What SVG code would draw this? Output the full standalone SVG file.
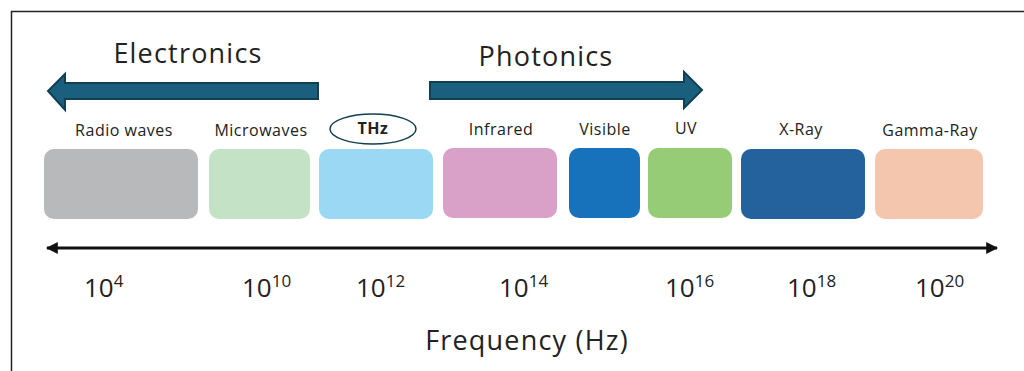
<svg xmlns="http://www.w3.org/2000/svg" width="1024" height="371" viewBox="0 0 1024 371">
<style>
.lbl{font-family:"Open Sans","Liberation Sans",Arial,sans-serif;font-size:16px;fill:#222;text-anchor:middle;letter-spacing:0.5px}
.big{font-family:"Open Sans","Liberation Sans",Arial,sans-serif;font-size:27px;fill:#222;text-anchor:middle;letter-spacing:1.2px}
.tick{font-family:"Open Sans","Liberation Sans",Arial,sans-serif;font-size:26px;fill:#222}
.sup{font-size:17px}
.arr{fill:#1a5f7e;stroke:#123f52;stroke-width:2}
</style>
<defs>
<marker id="ah" viewBox="0 0 10 10" refX="9" refY="5" markerWidth="4" markerHeight="4" orient="auto-start-reverse">
<path d="M0,0 L10,5 L0,10 Z" fill="#111"/>
</marker>
</defs>
<rect width="1024" height="371" fill="#fff"/>
<path d="M11.5,371 V11.5 H1024" fill="none" stroke="#222" stroke-width="1.5"/>
<g id="electronics">
<path class="arr" d="M318,83 V99 H65 V110 L48,91 L65,74 V83 Z"/>
<text class="big" x="188" y="63">Electronics</text>
</g>
<g id="photonics">
<path class="arr" d="M430,82 H684 V72 L702,90 L684,108 V99 H430 Z"/>
<text class="big" x="546" y="66">Photonics</text>
</g>
<g id="radio">
<rect x="44" y="149" width="154" height="70" rx="10" fill="#b8b9bb"/>
<text class="lbl" x="124" y="136">Radio waves</text>
</g>
<g id="microwaves">
<rect x="209" y="149" width="101" height="70" rx="10" fill="#c4e3c6"/>
<text class="lbl" x="261" y="136">Microwaves</text>
</g>
<g id="thz">
<rect x="319" y="149" width="114" height="70" rx="10" fill="#9bd8f4"/>
<ellipse cx="373" cy="129" rx="43" ry="15" fill="#fff" stroke="#123f52" stroke-width="1.5"/>
<text class="lbl" x="373" y="134" style="font-weight:bold">THz</text>
</g>
<g id="infrared">
<rect x="443" y="148" width="114" height="70" rx="10" fill="#d9a1c8"/>
<text class="lbl" x="501" y="135">Infrared</text>
</g>
<g id="visible">
<rect x="569" y="148" width="71" height="70" rx="10" fill="#1771bb"/>
<text class="lbl" x="605" y="135">Visible</text>
</g>
<g id="uv">
<rect x="648" y="148" width="84" height="70" rx="10" fill="#96cc75"/>
<text class="lbl" x="686" y="134">UV</text>
</g>
<g id="xray">
<rect x="741" y="149" width="124" height="70" rx="10" fill="#23629c"/>
<text class="lbl" x="801" y="135">X-Ray</text>
</g>
<g id="gamma">
<rect x="875" y="149" width="108" height="70" rx="10" fill="#f5c6ae"/>
<text class="lbl" x="930" y="136">Gamma-Ray</text>
</g>
<g id="connectors">
<line x1="47" y1="248" x2="997" y2="248" stroke="#111" stroke-width="3" marker-start="url(#ah)" marker-end="url(#ah)"/>
</g>
<g id="ticks">
<text class="tick" x="84" y="297">10<tspan class="sup" dy="-10">4</tspan></text>
<text class="tick" x="242" y="297">10<tspan class="sup" dy="-10">10</tspan></text>
<text class="tick" x="356" y="297">10<tspan class="sup" dy="-10">12</tspan></text>
<text class="tick" x="499" y="297">10<tspan class="sup" dy="-10">14</tspan></text>
<text class="tick" x="665" y="297">10<tspan class="sup" dy="-10">16</tspan></text>
<text class="tick" x="787" y="297">10<tspan class="sup" dy="-10">18</tspan></text>
<text class="tick" x="915" y="297">10<tspan class="sup" dy="-10">20</tspan></text>
</g>
<text class="big" x="527" y="350">Frequency (Hz)</text>
</svg>
